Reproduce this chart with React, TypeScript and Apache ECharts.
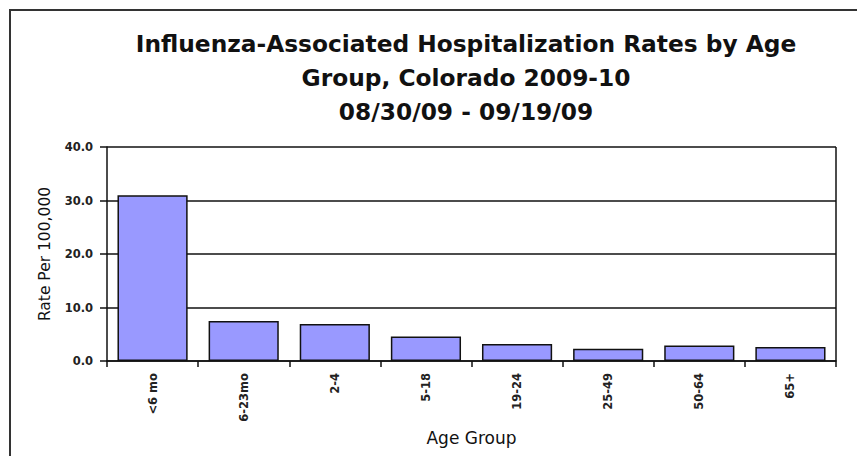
import React, { useEffect, useRef } from "react";
import * as echarts from "echarts";

const titleLines = [
  "Influenza-Associated Hospitalization Rates by Age",
  "Group, Colorado 2009-10",
  "08/30/09 - 09/19/09",
];
const categories = ["<6 mo", "6-23mo", "2-4", "5-18", "19-24", "25-49", "50-64", "65+"];
const rates = [31.0, 7.5, 6.9, 4.6, 3.2, 2.3, 2.9, 2.6];
const yTicks = { min: 0, max: 40, interval: 10 };
const yAxisName = "Rate Per 100,000";
const xAxisName = "Age Group";

export default function App() {
  const ref = useRef<HTMLDivElement>(null);
  useEffect(() => {
    if (!ref.current) return;
    const chart = echarts.init(ref.current, null, { renderer: "svg" });
    const font = "'DejaVu Sans', Arial, sans-serif";
    chart.setOption({
      animation: false,
      backgroundColor: "#ffffff",
      textStyle: { fontFamily: font },
      graphic: [
        {
          type: "rect",
          shape: { x: 10, y: 10, width: 900, height: 500 },
          style: { fill: "none", stroke: "#333333", lineWidth: 2 },
          silent: true,
        },
        {
          type: "line",
          shape: { x1: 836, y1: 147, x2: 836, y2: 361 },
          style: { stroke: "#111111", lineWidth: 1.5 },
          silent: true,
        },
      ],
      title: {
        text: titleLines.join("\n"),
        left: 461,
        top: 21,
        textAlign: "center",
        textStyle: {
          fontFamily: font,
          fontSize: 23.3,
          fontWeight: "bold",
          color: "#111111",
          lineHeight: 34,
        },
      },
      grid: { left: 107, top: 147, right: 21, bottom: 95, containLabel: false },
      xAxis: {
        type: "category",
        data: categories,
        boundaryGap: true,
        name: xAxisName,
        nameLocation: "middle",
        nameGap: 68,
        nameTextStyle: { fontFamily: font, fontSize: 17, color: "#111111", verticalAlign: "top" },
        axisLine: { show: true, lineStyle: { color: "#111111", width: 1.5 } },
        axisTick: { show: true, alignWithLabel: false, length: 6, lineStyle: { color: "#111111", width: 1.5 } },
        axisLabel: {
          rotate: 90,
          margin: 12,
          fontFamily: font,
          fontSize: 11.5,
          fontWeight: "bold",
          color: "#222222",
          interval: 0,
        },
        splitLine: { show: false },
      },
      yAxis: {
        type: "value",
        min: yTicks.min,
        max: yTicks.max,
        interval: yTicks.interval,
        name: yAxisName,
        nameLocation: "middle",
        nameGap: 54,
        nameRotate: 90,
        nameTextStyle: { fontFamily: font, fontSize: 15.5, color: "#111111" },
        axisLine: { show: true, lineStyle: { color: "#111111", width: 1.5 } },
        axisTick: { show: true, length: 7, lineStyle: { color: "#111111", width: 1.5 } },
        axisLabel: {
          margin: 14,
          fontFamily: font,
          fontSize: 11.5,
          fontWeight: "bold",
          color: "#222222",
          formatter: (v: number) => v.toFixed(1),
        },
        splitLine: { show: true, lineStyle: { color: "#111111", width: 1.5 } },
      },
      series: [
        {
          type: "bar",
          data: rates,
          barCategoryGap: "23%",
          itemStyle: { color: "#9999ff", borderColor: "#111111", borderWidth: 1.5 },
        },
      ],
    });
    return () => chart.dispose();
  }, []);
  return (
    <div
      ref={ref}
      style={{ position: "absolute", left: 0, top: 0, width: 857, height: 456 }}
    />
  );
}
